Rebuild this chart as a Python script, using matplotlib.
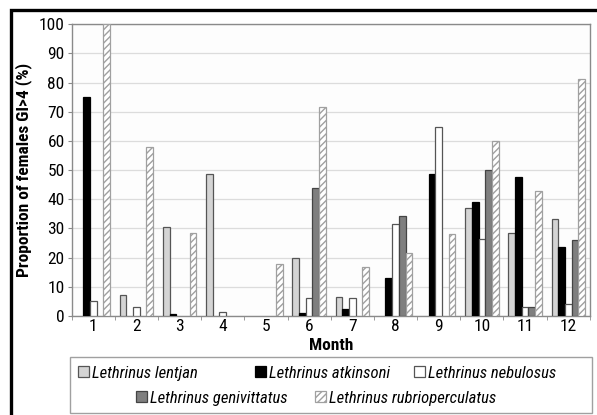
import numpy as np
import matplotlib.pyplot as plt
from matplotlib.patches import Rectangle

plt.rcParams['font.family'] = ['Roboto Condensed', 'DejaVu Sans']
plt.rcParams['hatch.linewidth'] = 1.0

months = [1, 2, 3, 4, 5, 6, 7, 8, 9, 10, 11, 12]

# proportion of females with GI > 4 (%), per species and month
lentjan = [0, 7.2, 30.6, 48.7, 0, 20.0, 6.6, 0, 0, 36.9, 28.6, 33.4]
atkinsoni = [75.0, 0, 0.6, 0, 0, 1.1, 2.3, 13.0, 48.8, 39.1, 47.8, 23.5]
nebulosus = [5.1, 3.2, 0, 1.3, 0, 6.2, 6.2, 31.5, 64.8, 26.3, 3.1, 4.0]
genivittatus = [0, 0, 0, 0, 0, 43.7, 0, 34.4, 0, 50.1, 3.1, 26.1]
rubrioperculatus = [100.0, 57.8, 28.6, 0, 17.8, 71.5, 16.7, 21.5, 28.0, 60.0, 42.9, 81.3]

species = ['Lethrinus lentjan', 'Lethrinus atkinsoni', 'Lethrinus nebulosus',
           'Lethrinus genivittatus', 'Lethrinus rubrioperculatus']
series = [lentjan, atkinsoni, nebulosus, genivittatus, rubrioperculatus]
styles = [dict(color='#d4d4d4', edgecolor='#555555'),
          dict(color='black', edgecolor='black'),
          dict(color='white', edgecolor='#555555'),
          dict(color='#7f7f7f', edgecolor='#444444'),
          dict(color='white', edgecolor='#a0a0a0', hatch='/////')]

fig = plt.figure(figsize=(5.97, 4.15), dpi=100)
ax = fig.add_axes([0.120, 0.2386, 0.868, 0.703])

x = np.array(months)
w = 0.155
handles = []
for i, (vals, st) in enumerate(zip(series, styles)):
    # no outline on empty months so nothing shows on the axis line
    lw = [0.9 if v > 0 else 0 for v in vals]
    b = ax.bar(x + (i - 2) * w, vals, width=w, linewidth=lw, zorder=3,
               label=species[i], **st)
    handles.append(b)

ax.set_xlim(0.5, 12.5)
ax.set_ylim(0, 100)
ax.set_yticks(np.arange(0, 101, 10))
ax.set_xticks(months)
ax.set_xticks(np.arange(0.5, 12.6, 1), minor=True)
ax.grid(axis='y', color='#dcdcdc', linewidth=0.9, zorder=0)
ax.set_facecolor('#fdfdfd')
for s in ax.spines.values():
    s.set_color('#8a8a8a')
    s.set_linewidth(1.0)
ax.tick_params(axis='y', length=3, pad=2, color='#8a8a8a', labelsize=12.5)
ax.tick_params(axis='x', which='major', length=0, pad=2, labelsize=12.5)
ax.tick_params(axis='x', which='minor', length=3, color='#8a8a8a')

ax.set_ylabel('Proportion of females GI>4 (%)', fontsize=12.5, fontweight='bold', labelpad=5)
ax.set_xlabel('Month', fontsize=12.5, fontweight='bold', labelpad=3)

# legend box with entries laid out in two centred rows
fig.add_artist(Rectangle((70 / 597, 1 - 413 / 415), 522 / 597, 56 / 415,
                         transform=fig.transFigure, fill=False,
                         edgecolor='#a0a0a0', linewidth=1.0))
spots = [(78, 373), (255, 373), (414, 373), (136, 398), (315, 398)]
for h, lab, (px, py) in zip(handles, species, spots):
    leg = fig.legend([h], [lab], loc='center left', bbox_to_anchor=(px / 597, 1 - py / 415),
                     frameon=False, borderpad=0, borderaxespad=0, handlelength=0.65,
                     handleheight=0.65, handletextpad=0.2,
                     prop=dict(style='italic', size=12))
    for p in leg.get_patches():
        p.set_linewidth(0.9)

# outer frame
fig.add_artist(Rectangle((11 / 597, -0.1), 1.2, 1.1 - 10 / 415,
                         transform=fig.transFigure, fill=False,
                         edgecolor='black', linewidth=2.4))

fig.savefig('out.png', dpi=100)
